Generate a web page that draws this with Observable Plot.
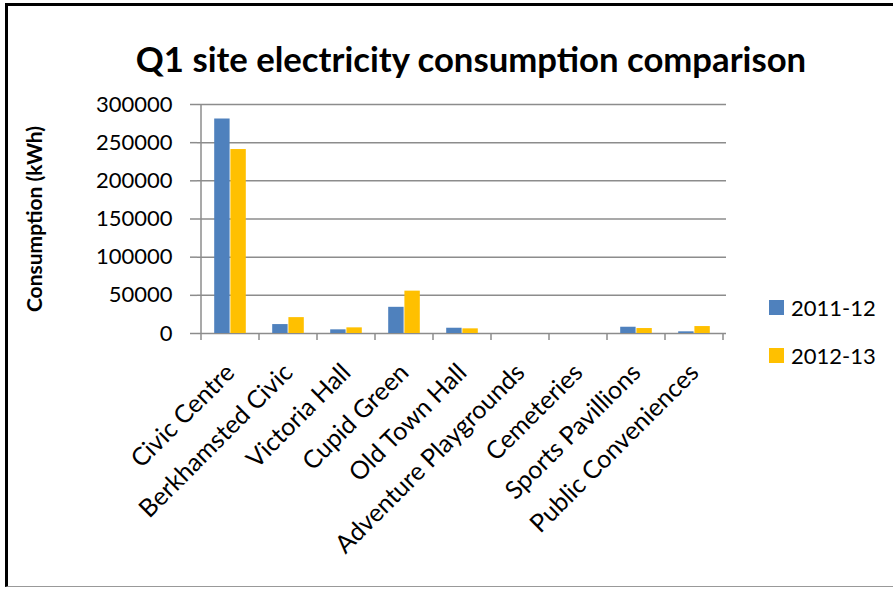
<!DOCTYPE html>
<html>
<head>
<meta charset="utf-8">
<script src="https://cdn.jsdelivr.net/npm/d3@7"></script>
<script src="https://cdn.jsdelivr.net/npm/@observablehq/plot@0.6"></script>
<style>
  html, body { margin: 0; padding: 0; background: #fff; }
  #wrap { position: relative; width: 893px; height: 589px; overflow: hidden; font-family: Lato, "Open Sans", sans-serif; }
  #border { position: absolute; left: 5px; top: 3px; width: 900px; height: 584px; border-left: 3px solid #000; border-top: 3px solid #000; border-bottom: 1px solid #999; box-sizing: border-box; }
  #chart { position: absolute; left: 0; top: 0; }
  #title { position: absolute; left: 0; width: 942px; top: 38px; text-align: center; font-weight: 700; font-size: 34.7px; color: #000; }
  #ylabel { position: absolute; left: 33px; top: 219px; transform: translate(-50%, -50%) rotate(-90deg); font-weight: 700; font-size: 21px; white-space: nowrap; color: #000; }
  .leg { position: absolute; left: 769px; font-size: 22px; color: #000; display: flex; align-items: center; }
  .leg span.sw { display: inline-block; width: 15px; height: 15px; margin-right: 7px; }
</style>
</head>
<body>
<div id="wrap">
  <div id="border"></div>
  <div id="chart"></div>
  <div id="title"></div>
  <div id="ylabel"></div>
  <div id="legend"></div>
</div>
<script>
const titleText = "Q1 site electricity consumption comparison";
const yLabel = "Consumption (kWh)";
const categories = ["Civic Centre", "Berkhamsted Civic", "Victoria Hall", "Cupid Green", "Old Town Hall", "Adventure Playgrounds", "Cemeteries", "Sports Pavillions", "Public Conveniences"];
const series = ["2011-12", "2012-13"];
const values2011 = [281000, 11700, 4800, 34300, 6900, 0, 0, 8200, 2200];
const values2012 = [241000, 20800, 7400, 55500, 6100, 0, 0, 6500, 9100];
const yTicks = [0, 50000, 100000, 150000, 200000, 250000, 300000];
const colors = ["#4F81BD", "#FFC000"];

const data2011 = categories.map((c, i) => ({cat: c, value: values2011[i]}));
const data2012 = categories.map((c, i) => ({cat: c, value: values2012[i]}));

document.getElementById("title").textContent = titleText;
document.getElementById("ylabel").textContent = yLabel;
const legend = document.getElementById("legend");
series.forEach((s, i) => {
  const d = document.createElement("div");
  d.className = "leg";
  d.style.top = (294 + i * 48) + "px";
  d.innerHTML = `<span class="sw" style="background:${colors[i]}"></span>${s}`;
  legend.appendChild(d);
});

const gridColor = "#8c8c8c";
const plot = Plot.plot({
  width: 893,
  height: 589,
  marginLeft: 197,
  marginRight: 167,
  marginTop: 104,
  marginBottom: 256,
  style: {background: "transparent", fontFamily: "Lato, 'Open Sans', sans-serif", color: "#000"},
  x: {domain: categories, padding: 0, label: null},
  y: {domain: [0, 300000], label: null},
  marks: [
    Plot.gridY(yTicks, {stroke: gridColor, strokeWidth: 1.5, strokeOpacity: 1}),
    Plot.barY(data2011, {x: "cat", y: "value", fill: colors[0], insetLeft: 13.2, insetRight: 29.4}),
    Plot.barY(data2012, {x: "cat", y: "value", fill: colors[1], insetLeft: 29.4, insetRight: 13.2}),
    Plot.axisY(yTicks, {anchor: "left", tickSize: 7, tickPadding: 18, fontSize: 22, stroke: gridColor, strokeWidth: 1.5, tickFormat: d => String(d)}),
    Plot.axisX({tickSize: 0, tickRotate: -45, fontSize: 25, tickPadding: 35, label: null})
  ]
});
document.getElementById("chart").appendChild(plot);

// axis line and category boundary ticks, placed with the plot's own scales
const x = plot.scale("x");
const y = plot.scale("y");
const svg = d3.select(plot);
const y0 = y.apply(0);
const g = svg.append("g").attr("stroke", gridColor).attr("stroke-width", 1.5);
const xStart = x.apply(categories[0]);
g.append("line").attr("x1", xStart).attr("x2", xStart).attr("y1", y.apply(300000)).attr("y2", y0 + 7);
categories.forEach(c => {
  const xb = x.apply(c) + x.bandwidth;
  g.append("line").attr("x1", xb).attr("x2", xb).attr("y1", y0).attr("y2", y0 + 7);
});
</script>
</body>
</html>
